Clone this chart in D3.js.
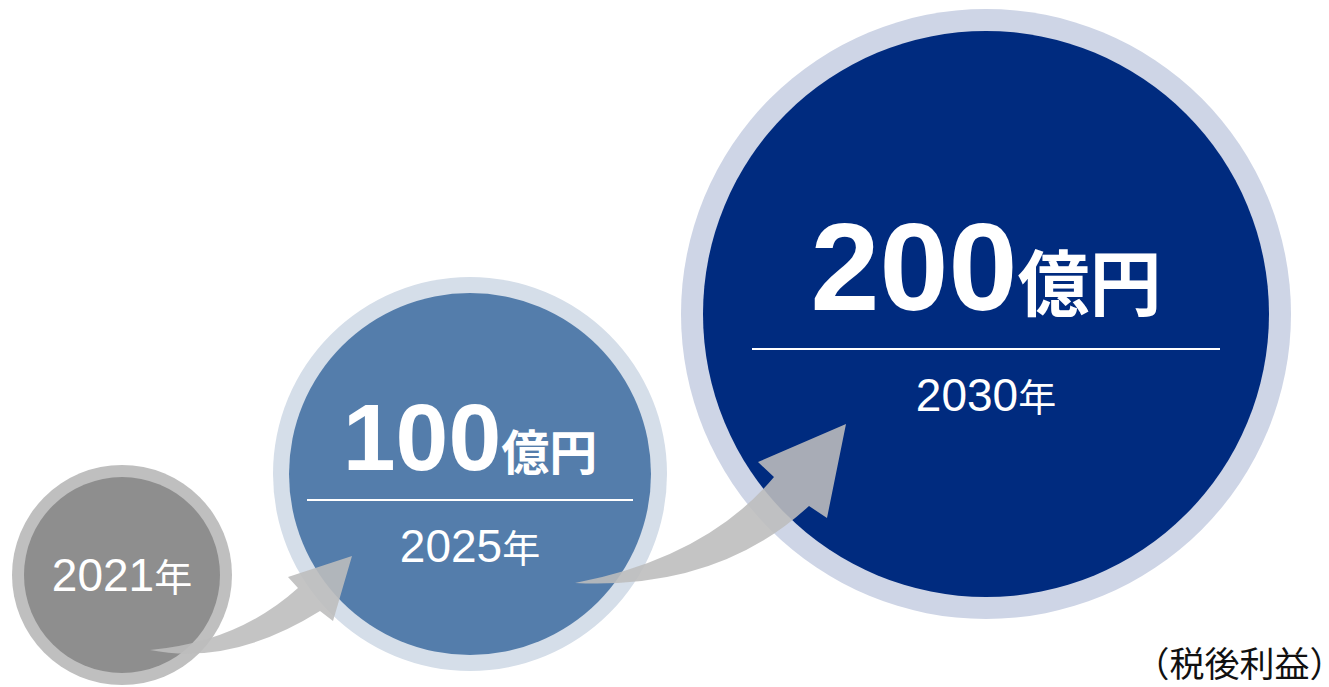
<!DOCTYPE html>
<html><head><meta charset="utf-8">
<script src="https://cdn.jsdelivr.net/npm/d3@7"></script>
<style>html,body{margin:0;padding:0;background:#fff;overflow:hidden}</style>
</head><body><svg id="c" width="1329" height="687"></svg>
<script>
// ---- data ----
const years = ["2021", "2025", "2030"];
const yearUnit = "年";
const profits = [null, 100, 200];
const profitUnit = "億円";
const noteParts = ["（", "税後利益", "）"];

// ---- layout (ordinal scales keyed by year) ----
const cx = d3.scaleOrdinal().domain(years).range([122, 470, 986]);
const cy = d3.scaleOrdinal().domain(years).range([575, 474, 314]);
const rOuter = d3.scaleOrdinal().domain(years).range([110, 197, 305]);
const ringW = d3.scaleOrdinal().domain(years).range([12, 16, 22]);
const ringCol = d3.scaleOrdinal().domain(years).range(["#bfbfbf", "#d5dee9", "#ced5e6"]);
const fillCol = d3.scaleOrdinal().domain(years).range(["#8e8e8e", "#547dab", "#002b7f"]);
const valSize = d3.scaleOrdinal().domain(years).range([0, 95, 124]);
const unitSize = d3.scaleOrdinal().domain(years).range([0, 48, 72]);
const valDy = d3.scaleOrdinal().domain(years).range([0, -4, -4]);
const lineDy = d3.scaleOrdinal().domain(years).range([0, 26, 35]);
const lineHalf = d3.scaleOrdinal().domain(years).range([0, 163, 234]);
const yearDy = d3.scaleOrdinal().domain(years).range([16, 88, 97]);

const data = years.map((y, i) => ({year: y, value: profits[i]}));
const svg = d3.select("#c");

// circles
const g = svg.selectAll("g.node").data(data).join("g").attr("class", "node");
g.append("circle")
  .attr("cx", d => cx(d.year)).attr("cy", d => cy(d.year))
  .attr("r", d => rOuter(d.year)).attr("fill", d => ringCol(d.year));
g.append("circle")
  .attr("cx", d => cx(d.year)).attr("cy", d => cy(d.year))
  .attr("r", d => rOuter(d.year) - ringW(d.year)).attr("fill", d => fillCol(d.year));

// arrows (between consecutive circles)
const arrows = [
  {T:[150,650], lc:[232,666], ln:[320,611], lb:[333,621], tip:[352,556], ub:[288,577], un:[298,588], uc:[238,642]},
  {T:[575,583], lc:[718,590], ln:[809,506], lb:[827,518], tip:[846,424], ub:[758,462], un:[774,477], uc:[706,558]}
];
function arrowPath(a) {
  const p = d3.path();
  p.moveTo(...a.T);
  p.quadraticCurveTo(...a.lc, ...a.ln);
  p.lineTo(...a.lb); p.lineTo(...a.tip); p.lineTo(...a.ub); p.lineTo(...a.un);
  p.quadraticCurveTo(...a.uc, ...a.T);
  p.closePath();
  return p.toString();
}
svg.selectAll("path.arrow").data(arrows).join("path").attr("class", "arrow")
  .attr("d", arrowPath).attr("fill", "#bdbdbd").attr("fill-opacity", 0.89);

// value labels
const withVal = data.filter(d => d.value != null);
const vt = svg.selectAll("text.val").data(withVal).join("text").attr("class", "val")
  .attr("x", d => cx(d.year)).attr("y", d => cy(d.year) + valDy(d.year))
  .attr("text-anchor", "middle").attr("fill", "#fff").attr("font-weight", "bold");
vt.append("tspan").attr("font-family", "'Liberation Sans', Arial, sans-serif")
  .attr("font-size", d => valSize(d.year)).text(d => d.value);
vt.append("tspan").attr("font-family", "'Noto Sans CJK JP', sans-serif")
  .attr("font-size", d => unitSize(d.year)).text(profitUnit);

// separator lines
svg.selectAll("line.sep").data(withVal).join("line").attr("class", "sep")
  .attr("x1", d => cx(d.year) - lineHalf(d.year)).attr("x2", d => cx(d.year) + lineHalf(d.year))
  .attr("y1", d => cy(d.year) + lineDy(d.year)).attr("y2", d => cy(d.year) + lineDy(d.year))
  .attr("stroke", "#fff").attr("stroke-width", 2);

// year labels
const yt = svg.selectAll("text.yr").data(data).join("text").attr("class", "yr")
  .attr("x", d => cx(d.year)).attr("y", d => cy(d.year) + yearDy(d.year))
  .attr("text-anchor", "middle").attr("fill", "#fff");
yt.append("tspan").attr("font-family", "'Liberation Sans', Arial, sans-serif")
  .attr("font-size", 46).text(d => d.year);
yt.append("tspan").attr("font-family", "'Noto Sans CJK JP', sans-serif")
  .attr("font-size", 38).text(yearUnit);

// note
const nt = svg.append("text").attr("x", 1327).attr("y", 677)
  .attr("text-anchor", "end")
  .attr("font-family", "'Noto Sans CJK JP', sans-serif").attr("font-size", 35)
  .attr("fill", "#111");
nt.selectAll("tspan").data(noteParts).join("tspan")
  .style("font-feature-settings", (d, i) => i === 1 ? "normal" : "'halt'")
  .text(d => d);
</script></body></html>
